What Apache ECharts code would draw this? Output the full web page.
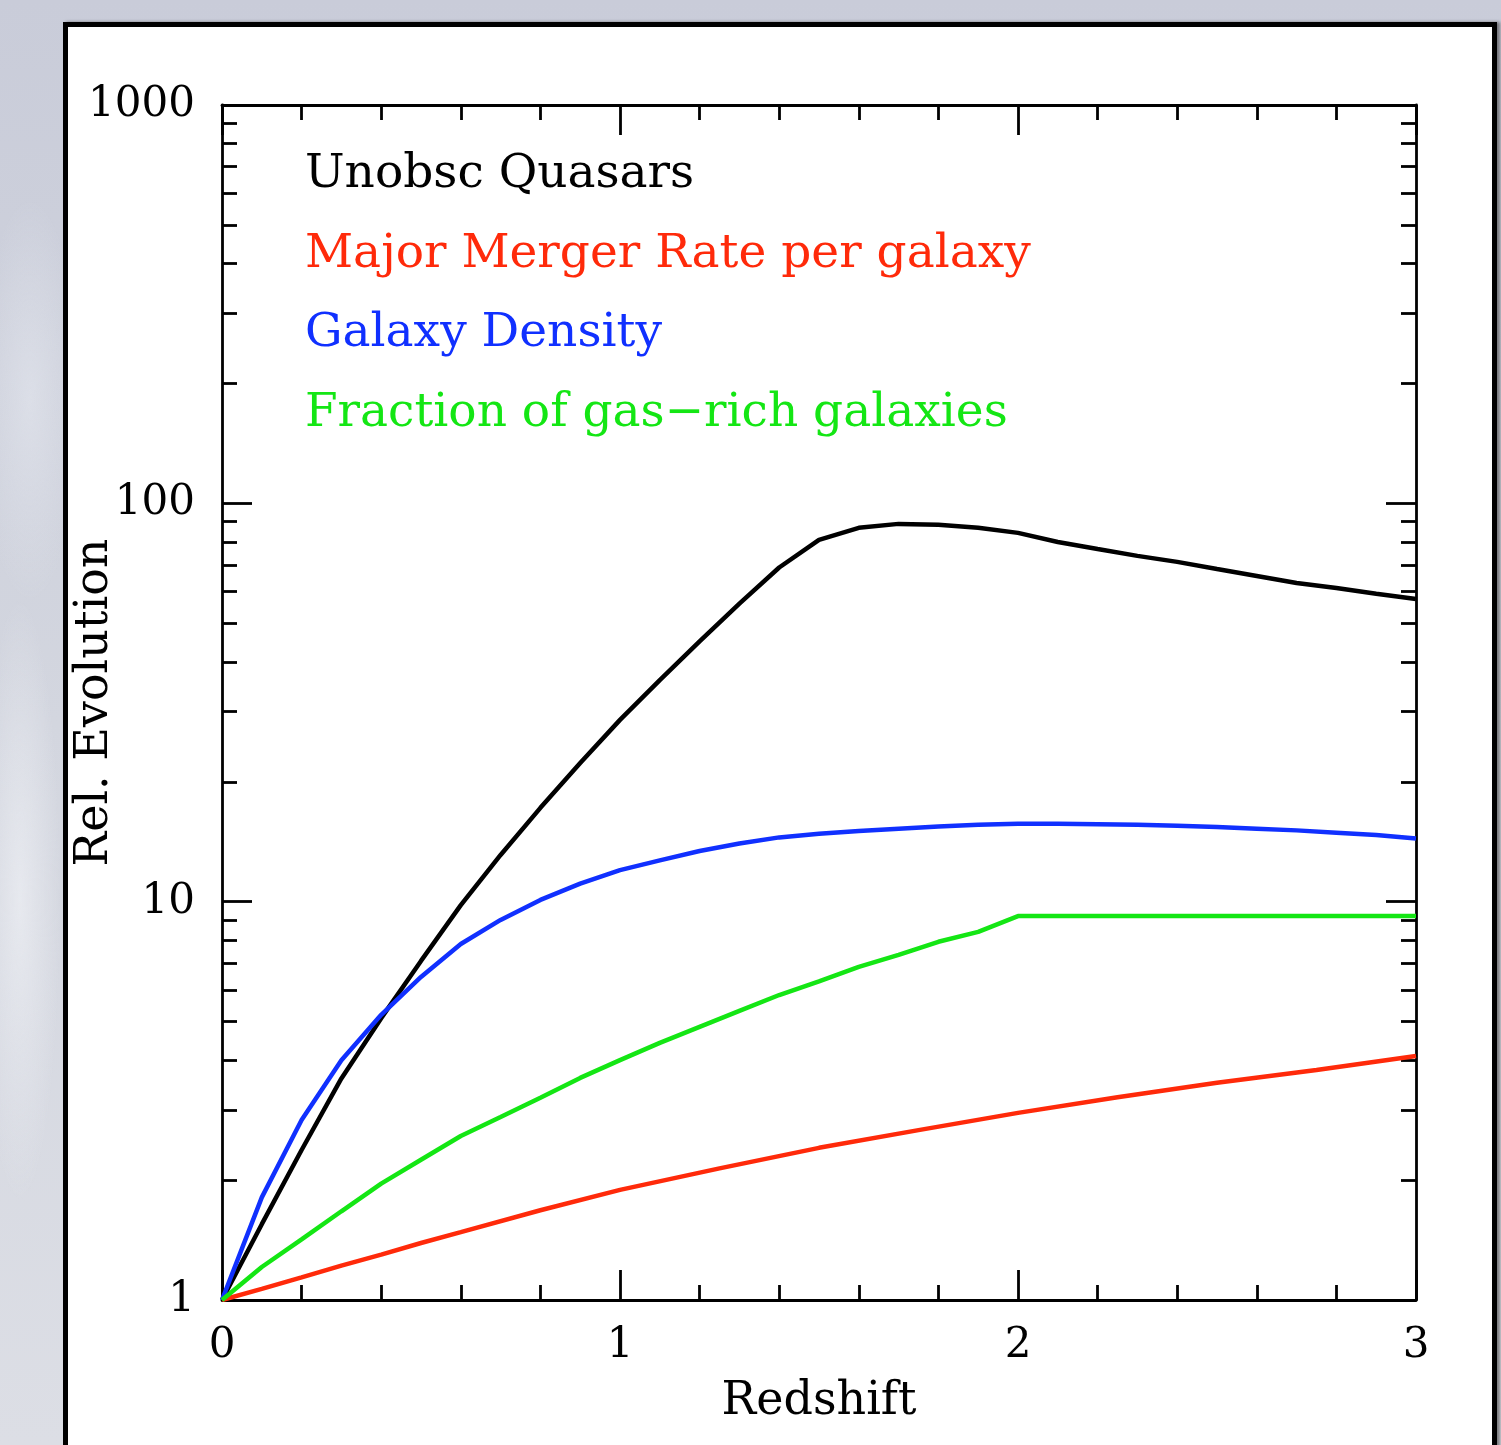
<!DOCTYPE html>
<html><head><meta charset="utf-8">
<script src="https://cdn.jsdelivr.net/npm/echarts@6/dist/echarts.min.js"></script>
<style>
html,body{margin:0;padding:0;width:1501px;height:1445px;overflow:hidden;}
body{background:
  radial-gradient(ellipse 40px 300px at 20px 900px, rgba(235,237,242,0.8), rgba(235,237,242,0) 100%),
  radial-gradient(ellipse 50px 200px at 30px 400px, rgba(225,228,236,0.7), rgba(225,228,236,0) 100%),
  linear-gradient(to bottom, #c9ccd9 0%, #d3d6df 50%, #dcdee5 100%);}
#panel{position:absolute;left:63px;top:22px;width:1434px;height:1500px;box-sizing:border-box;border:5px solid #000;background:#fff;box-shadow:3px 0 3px rgba(60,60,60,0.6);}
#chart{position:absolute;left:0;top:0;width:1501px;height:1445px;}
</style></head><body>
<div id="panel"></div><div id="chart"></div>
<script>
// ---- data ----
const zGrid = [0,0.1,0.2,0.3,0.4,0.5,0.6,0.7,0.8,0.9,1.0,1.1,1.2,1.3,1.4,1.5,1.6,1.7,1.8,1.9,2.0,2.1,2.2,2.3,2.4,2.5,2.6,2.7,2.8,2.9,3.0];
const quasars = [1,1.55,2.38,3.6,5.1,7.1,9.8,13.1,17.2,22.3,28.6,36,45,56,69,81,86.8,88.8,88.3,86.8,84.3,80,76.8,73.8,71.3,68.4,65.7,63.1,61.3,59.3,57.5];
const galaxyDensity = [1,1.81,2.83,4.0,5.2,6.47,7.83,9.0,10.1,11.1,12.0,12.7,13.4,14.0,14.5,14.8,15.05,15.25,15.45,15.6,15.7,15.7,15.65,15.6,15.5,15.4,15.25,15.1,14.9,14.7,14.4];
const gasRich = [1,1.21,1.42,1.67,1.96,2.25,2.58,2.88,3.22,3.61,4.0,4.42,4.85,5.32,5.83,6.31,6.86,7.35,7.93,8.4,9.2,9.2,9.2,9.2,9.2,9.2,9.2,9.2,9.2,9.2,9.2];
const zRed = [0,0.1,0.2,0.3,0.4,0.5,0.6,0.8,1.0,1.25,1.5,1.75,2.0,2.25,2.5,2.75,3.0];
const mergerRate = [1,1.066,1.14,1.22,1.30,1.39,1.48,1.68,1.89,2.14,2.41,2.67,2.95,3.23,3.51,3.78,4.1];
const seriesNames = ['Unobsc Quasars','Major Merger Rate per galaxy','Galaxy Density','Fraction of gas\u2212rich galaxies'];
const xTickLabels = ['0','1','2','3'];
const yTickLabels = {1:'1',10:'10',100:'100',1000:'1000'};
const yMinorTicks = [2,3,4,5,6,7,8,9,20,30,40,50,60,70,80,90,200,300,400,500,600,700,800,900];

const colors = ['#000000','#ff2a0a','#1030ff','#14e614'];
const F = 'DejaVu Serif';
const AX = {color:'#000', width:2.8};
const GRID = {left:222, top:105, right:85, bottom:145, containLabel:false};

const pairs = (xs, ys) => xs.map((x,i)=>[x, ys[i]]);

const baseX = {
  gridIndex:0, type:'value', min:0, max:3, interval:1,
  axisLine:{show:true, onZero:false, lineStyle:AX},
  axisTick:{show:true, inside:true, length:30, lineStyle:AX},
  minorTick:{show:true, splitNumber:5, length:15, lineStyle:AX},
  splitLine:{show:false}, minorSplitLine:{show:false}
};
const majorY = {
  gridIndex:0, type:'log', logBase:10, min:1, max:1000,
  axisLine:{show:true, onZero:false, lineStyle:AX},
  axisTick:{show:true, inside:true, length:30, lineStyle:AX},
  splitLine:{show:false}
};
const minorY = {
  gridIndex:1, type:'value', min:0, max:3,
  axisLine:{show:false},
  axisTick:{show:true, inside:true, length:15, lineStyle:AX, customValues: yMinorTicks.map(v=>Math.log10(v))},
  axisLabel:{show:false}, splitLine:{show:false}
};

const chart = echarts.init(document.getElementById('chart'), null, {renderer:'canvas'});
chart.setOption({
  animation:false,
  backgroundColor:'transparent',
  grid:[GRID, Object.assign({}, GRID)],
  legend:{
    orient:'vertical', left:300, top:147, padding:0, itemGap:23.5,
    itemWidth:0, itemHeight:0, selectedMode:false,
    textStyle:{fontSize:47, fontFamily:F, lineHeight:56},
    data: seriesNames.map((n,i)=>({name:n, icon:'rect', textStyle:{color:colors[i]}}))
  },
  xAxis:[
    Object.assign({}, baseX, {position:'bottom',
      axisLabel:{show:true, fontSize:42, fontFamily:F, color:'#000', margin:25, formatter:v=>xTickLabels[Math.round(v)]},
      name:'Redshift', nameLocation:'middle', nameGap:79,
      nameTextStyle:{fontSize:46, fontFamily:F, color:'#000'}}),
    Object.assign({}, baseX, {position:'top', axisLabel:{show:false}}),
    {gridIndex:1, type:'value', min:0, max:3, show:false}
  ],
  yAxis:[
    Object.assign({}, majorY, {position:'left',
     axisLabel:{fontSize:42, fontFamily:F, color:'#000', margin:27, padding:[6,0,0,0], formatter:v=>yTickLabels[Math.round(v)]},
     name:'Rel. Evolution', nameLocation:'middle', nameGap:104, nameMoveOverlap:false,
     nameTextStyle:{fontSize:46, fontFamily:F, color:'#000'}}),
    Object.assign({}, majorY, {position:'right', axisLabel:{show:false}}),
    Object.assign({}, minorY, {position:'left'}),
    Object.assign({}, minorY, {position:'right'})
  ],
  series:[
    {name:seriesNames[0], type:'line', data:pairs(zGrid, quasars)},
    {name:seriesNames[1], type:'line', data:pairs(zRed, mergerRate)},
    {name:seriesNames[2], type:'line', data:pairs(zGrid, galaxyDensity)},
    {name:seriesNames[3], type:'line', data:pairs(zGrid, gasRich)}
  ].map((s,i)=>Object.assign(s, {xAxisIndex:0, yAxisIndex:0, showSymbol:false, symbol:'none', smooth:false,
      color:colors[i], lineStyle:{width:4.5, color:colors[i]}, z:3}))
});
</script></body></html>
